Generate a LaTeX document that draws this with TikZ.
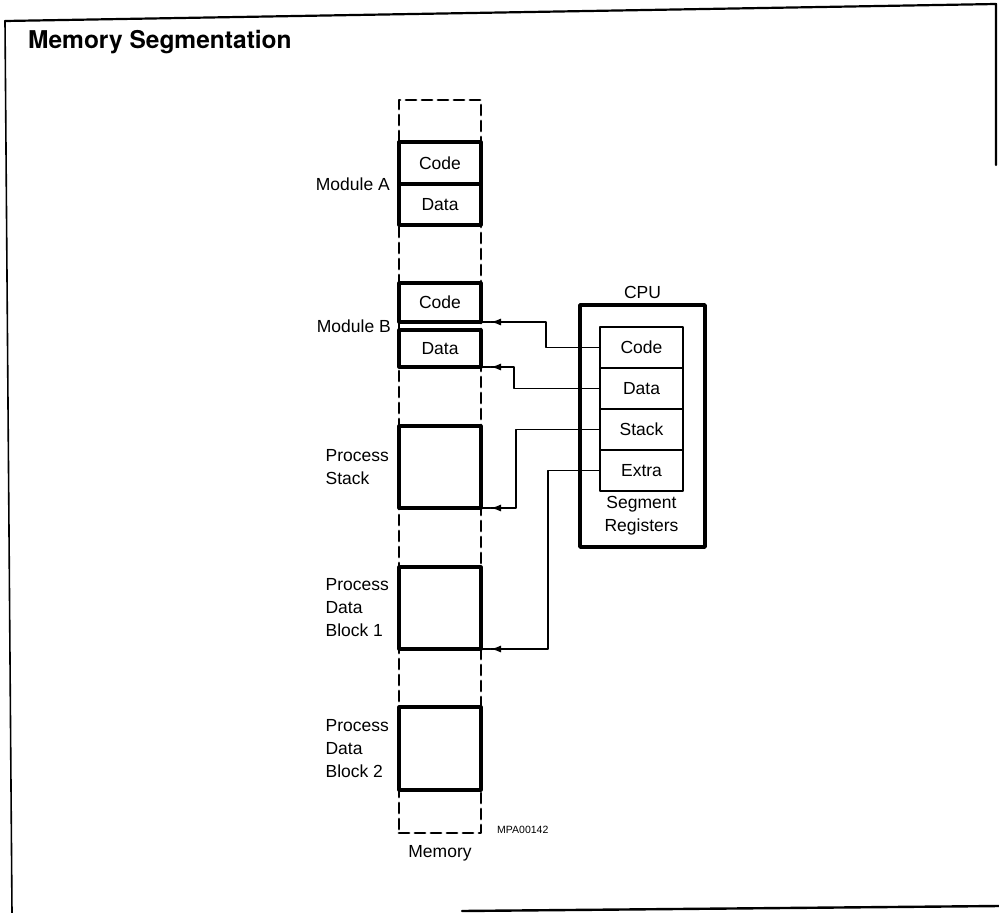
\documentclass[tikz,border=0pt]{standalone}
\usepackage{fontspec}
\setmainfont{Liberation Sans}
\newfontfamily\titlefont{TeX Gyre Heros}
\usetikzlibrary{positioning,arrows.meta}

\begin{document}
\begin{tikzpicture}[x=1pt, y=-1pt, line cap=round, line join=round,
  seg/.style={draw, line width=3.2pt, fill=white, minimum width=82pt,
    inner sep=0pt, outer sep=0pt, font=\fontsize{17.5}{20}\selectfont},
  reg/.style={draw, line width=2.4pt, minimum width=83pt, minimum height=41pt,
    inner sep=0pt, outer sep=0pt, font=\fontsize{17.5}{20}\selectfont},
  lbl/.style={font=\fontsize{17.5}{23}\selectfont, align=left, inner sep=0pt},
  conn/.style={line width=1.2pt,
    -{Latex[length=10pt,width=7pt]Rectangle[length=10pt,width=1.2pt]}}]
  \useasboundingbox (0,0) rectangle (999,913);
  % el marco
  \draw[line width=2.2pt] (5,21) -- (996,4) -- (996,165);
  \draw[line width=1.6pt] (5,21) -- (12,913);
  \draw[line width=2.4pt] (462,911) -- (999,906);
  \node[anchor=base west, inner sep=0pt, font=\titlefont\bfseries\fontsize{24.5}{28}\selectfont]
    (title) at (28,48) {Memory Segmentation};
  % la memoria
  \node[draw, dash pattern=on 10pt off 6pt, line width=2.8pt, minimum width=82pt,
    minimum height=733pt, inner sep=0pt, outer sep=0pt] (mem) at (440,466.5) {};
  \node[seg, minimum height=42pt] (acode) at (440,163) {Code};
  \node[seg, minimum height=41pt, below=0pt of acode] (adata) {Data};
  \node[seg, minimum height=39pt] (bcode) at (440,302.5) {Code};
  \node[seg, minimum height=37pt] (bdata) at (440,348.5) {Data};
  \node[seg, minimum height=82pt] (stack) at (440,467) {};
  \node[seg, minimum height=82pt] (blk1) at (440,608) {};
  \node[seg, minimum height=83pt] (blk2) at (440,748.5) {};
  % los rotulos
  \node[lbl, anchor=east] (moda) at ([xshift=-9pt]acode.south west) {Module A};
  \node[lbl, anchor=east] (modb) at ([xshift=-8pt,yshift=-4pt]bcode.south west) {Module B};
  \node[lbl, anchor=east] (lstack) at ([xshift=-10pt]stack.west) {Process\\Stack};
  \node[lbl, anchor=east] (lblk1) at ([xshift=-10pt]blk1.west) {Process\\Data\\Block 1};
  \node[lbl, anchor=east] (lblk2) at ([xshift=-10pt]blk2.west) {Process\\Data\\Block 2};
  \node[lbl, below=12pt of mem] (memlbl) {Memory};
  \node[anchor=base west, inner sep=0pt, font=\fontsize{10.5}{12}\selectfont]
    (ref) at ([xshift=16pt]mem.south east) {MPA00142};
  % la CPU
  \node[draw, line width=3.4pt, minimum width=125pt, minimum height=242pt,
    inner sep=0pt, outer sep=0pt] (cpu) at (642.5,426) {};
  \node[lbl, above=6pt of cpu] (cpulbl) {CPU};
  \node[reg] (rcode) at (641.5,347.5) {Code};
  \node[reg, below=0pt of rcode] (rdata) {Data};
  \node[reg, below=0pt of rdata] (rstack) {Stack};
  \node[reg, below=0pt of rstack] (rextra) {Extra};
  \node[lbl, align=center, below=5pt of rextra] (seglbl) {Segment\\Registers};
  % las flechas
  \draw[conn] (rcode.west) -- ++(-54,0) |- (bcode.south east);
  \draw[conn] (rdata.west) -- ++(-86,0) |- (bdata.south east);
  \draw[conn] (rstack.west) -- ++(-84,0) |- (stack.south east);
  \draw[conn] (rextra.west) -- ++(-52,0) |- (blk1.south east);
\end{tikzpicture}
\end{document}
